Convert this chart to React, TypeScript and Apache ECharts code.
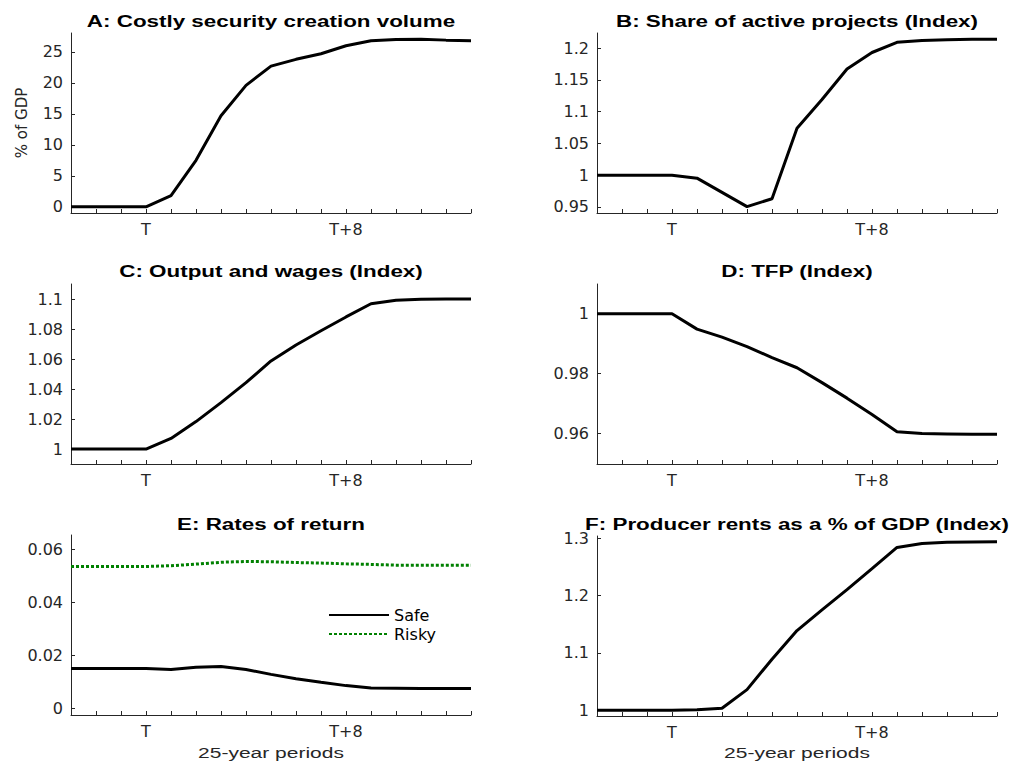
import { useEffect, useRef } from "react";
import * as echarts from "echarts";

// x categories: 25-year periods, three before T up to T+13
const periods = [
  "T-3", "T-2", "T-1", "T", "T+1", "T+2", "T+3", "T+4", "T+5",
  "T+6", "T+7", "T+8", "T+9", "T+10", "T+11", "T+12", "T+13",
];
const labelledPeriods = ["T", "T+8"];

// Panel values, one per period
const securityCreation = [0, 0, 0, 0, 1.8, 7.5, 14.7, 19.6, 22.7, 23.8, 24.7, 26.0, 26.8, 27.0, 27.05, 26.9, 26.8];
const activeProjects = [1, 1, 1, 1, 0.9953, 0.973, 0.9505, 0.963, 1.074, 1.119, 1.167, 1.193, 1.209, 1.212, 1.213, 1.2137, 1.2137];
const outputWages = [1, 1, 1, 1, 1.0071, 1.0183, 1.031, 1.0443, 1.0588, 1.0695, 1.079, 1.0882, 1.097, 1.0993, 1.1, 1.1002, 1.1002];
const tfp = [1, 1, 1, 1, 0.99485, 0.99216, 0.989, 0.9853, 0.9819, 0.9769, 0.9717, 0.9662, 0.9604, 0.9598, 0.9597, 0.9596, 0.9596];
const safeRate = [0.015, 0.015, 0.015, 0.015, 0.0146, 0.0154, 0.01575, 0.0146, 0.01275, 0.0111, 0.00975, 0.0085, 0.0076, 0.0075, 0.0074, 0.0074, 0.0074];
const riskyRate = [0.0535, 0.0535, 0.0535, 0.0535, 0.0538, 0.0544, 0.0551, 0.0554, 0.0553, 0.055, 0.0548, 0.0545, 0.0543, 0.054, 0.054, 0.054, 0.054];
const producerRents = [1, 1, 1, 1, 1.001, 1.0035, 1.036, 1.089, 1.139, 1.175, 1.2104, 1.247, 1.284, 1.291, 1.293, 1.2936, 1.294];

// y tick labels per panel
const ticksA = [0, 5, 10, 15, 20, 25];
const ticksB = [0.95, 1, 1.05, 1.1, 1.15, 1.2];
const ticksC = [1, 1.02, 1.04, 1.06, 1.08, 1.1];
const ticksD = [0.96, 0.98, 1];
const ticksE = [0, 0.02, 0.04, 0.06];
const ticksF = [1, 1.1, 1.2, 1.3];

const panelTitles = [
  "A: Costly security creation volume",
  "B: Share of active projects (Index)",
  "C: Output and wages (Index)",
  "D: TFP (Index)",
  "E: Rates of return",
  "F: Producer rents as a % of GDP (Index)",
];

const INK = "#262626";
const FONT = "'DejaVu Sans', sans-serif";
const STRETCH = 1.4;

// grid boxes (left, top) for the 3x2 layout
const boxes = [
  [71, 33], [597, 33],
  [71, 284], [597, 284],
  [71, 535], [597, 536],
];
const GRID_W = 400;
const GRID_H = 180;

const fmt = (v: number) => String(parseFloat(Number(v).toPrecision(6)));

function xAxisFor(gridIndex: number) {
  return {
    type: "category",
    gridIndex,
    data: periods,
    boundaryGap: false,
    axisLine: { onZero: false, lineStyle: { color: INK, width: 1 } },
    axisTick: { inside: true, length: 4, interval: 0, lineStyle: { color: INK } },
    axisLabel: {
      interval: (_i: number, v: string) => labelledPeriods.includes(v),
      color: INK,
      fontFamily: FONT,
      fontSize: 16,
      margin: 8,
    },
    splitLine: { show: false },
  };
}

function yAxisFor(gridIndex: number, ticks: number[], pad: number, name = "") {
  return {
    type: "value",
    gridIndex,
    min: (v: { min: number }) => v.min - pad,
    max: (v: { max: number }) => v.max + pad,
    name,
    nameLocation: "middle",
    nameGap: 42,
    nameRotate: 90,
    nameTextStyle: { color: INK, fontFamily: FONT, fontSize: 15 },
    axisLine: { show: true, lineStyle: { color: INK, width: 1 } },
    axisTick: { show: true, inside: true, length: 4, customValues: ticks, lineStyle: { color: INK } },
    axisLabel: { customValues: ticks, formatter: fmt, color: INK, fontFamily: FONT, fontSize: 16, margin: 8 },
    splitLine: { show: false },
  };
}

function lineSeries(name: string, idx: number, data: number[], color = "#000", type: any = "solid", width = 3) {
  return {
    name,
    type: "line",
    xAxisIndex: idx,
    yAxisIndex: idx,
    data,
    symbol: "none",
    lineStyle: { color, width, type, cap: "butt" },
    itemStyle: { color },
  };
}

export default function App() {
  const chartRef = useRef<HTMLDivElement>(null);

  useEffect(() => {
    if (!chartRef.current) return;
    const chart = echarts.init(chartRef.current, null, { renderer: "svg" });

    const option: any = {
      animation: false,
      backgroundColor: "#fff",
      grid: boxes.map(([left, top]) => ({ left, top, width: GRID_W, height: GRID_H })),
      xAxis: boxes.map((_, i) => xAxisFor(i)),
      yAxis: [
        yAxisFor(0, ticksA, 1, "% of GDP"),
        yAxisFor(1, ticksB, 0.01),
        yAxisFor(2, ticksC, 0.01),
        yAxisFor(3, ticksD, 0.01),
        yAxisFor(4, ticksE, 0.01),
        yAxisFor(5, ticksF, 0.01),
      ],
      legend: {
        data: ["Safe", "Risky"],
        orient: "vertical",
        left: 328,
        top: 607,
        padding: 0,
        itemWidth: 60,
        itemHeight: 14,
        itemGap: 3,
        // hide the marker dot, keep only the line sample
        itemStyle: { opacity: 0 },
        textStyle: { color: "#000", fontFamily: FONT, fontSize: 16 },
      },
      graphic: [
        ...panelTitles.map((text, i) => ({
          type: "text",
          x: boxes[i][0] + GRID_W / 2,
          y: i < 4 ? (i < 2 ? 21 : 271) : 524,
          scaleX: STRETCH,
          style: {
            text,
            fill: "#000",
            font: "bold 16px 'Liberation Sans', Arial, sans-serif",
            textAlign: "center",
            textVerticalAlign: "middle",
          },
        })),
        ...[4, 5].map((i) => ({
          type: "text",
          x: boxes[i][0] + GRID_W / 2,
          y: 753,
          scaleX: STRETCH,
          style: {
            text: "25-year periods",
            fill: INK,
            font: "15px 'Liberation Sans', Arial, sans-serif",
            textAlign: "center",
            textVerticalAlign: "middle",
          },
        })),
      ],
      series: [
        lineSeries("Security creation", 0, securityCreation),
        lineSeries("Active projects", 1, activeProjects),
        lineSeries("Output and wages", 2, outputWages),
        lineSeries("TFP", 3, tfp),
        lineSeries("Safe", 4, safeRate),
        lineSeries("Risky", 4, riskyRate, "#008000", [3, 2], 3),
        lineSeries("Producer rents", 5, producerRents),
      ],
    };

    chart.setOption(option);
    return () => chart.dispose();
  }, []);

  return (
    <div
      ref={chartRef}
      style={{ position: "absolute", left: 0, top: 0, width: "1009px", height: "762px" }}
    />
  );
}
